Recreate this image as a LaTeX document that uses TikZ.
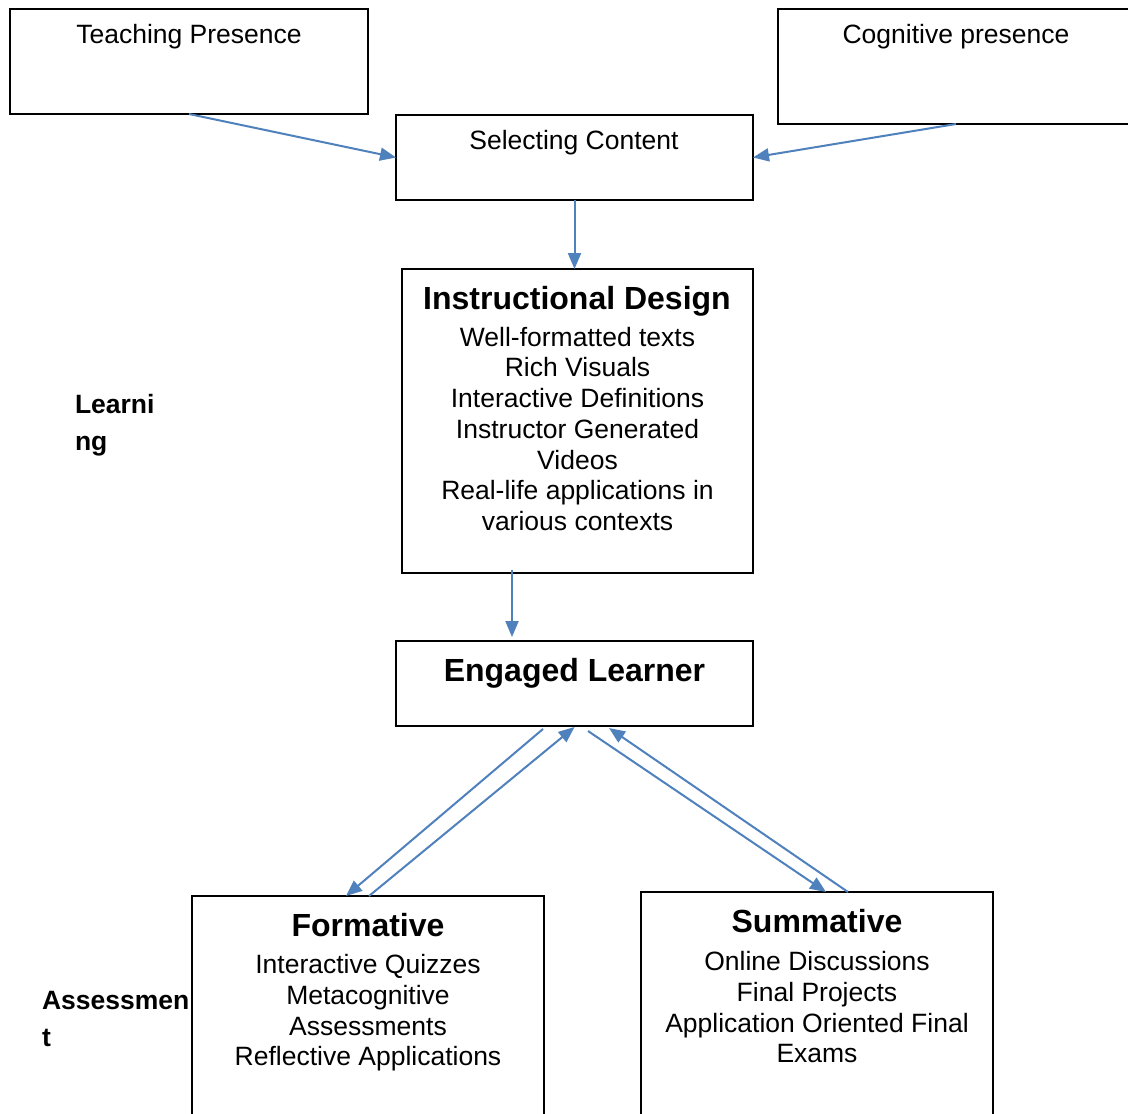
\documentclass[tikz,border=0pt]{standalone}
\usepackage{fontspec}
\setmainfont{Liberation Sans}
\usetikzlibrary{arrows.meta}
\definecolor{arrowblue}{HTML}{4F81BD}
\newcommand\bodyfont{\fontsize{26.5}{30.7}\selectfont}
\newcommand\titlefont{\fontsize{32}{36}\selectfont\bfseries}
\newcommand\labelfont{\fontsize{26.5}{36.5}\selectfont\bfseries}
\begin{document}
\begin{tikzpicture}[x=1pt,y=-1pt,
  box/.style={draw=black, line width=2pt, inner sep=0pt, outer sep=0pt, rectangle},
  txt/.style={inner sep=0pt, outer sep=0pt, font=\bodyfont, align=center},
  ttl/.style={inner sep=0pt, outer sep=0pt, font=\titlefont},
  lbl/.style={inner sep=0pt, outer sep=0pt, font=\labelfont, align=left},
  conn/.style={draw=arrowblue, line width=2pt},
  arr/.style={conn, -{Triangle[length=16pt,width=13pt]}}]
\useasboundingbox[fill=white] (0,0) rectangle (1128,1114);
% boxes
\node[box, minimum width=358pt, minimum height=105pt] (tp) at (189,61.5) {};
\node[box, minimum width=356pt, minimum height=115pt] (cp) at (956,66.5) {};
\node[box, minimum width=357pt, minimum height=85pt] (sc) at (574.5,157.5) {};
\node[box, minimum width=351pt, minimum height=304pt] (id) at (577.5,421) {};
\node[box, minimum width=357pt, minimum height=85pt] (el) at (574.5,683.5) {};
\node[box, minimum width=352pt, minimum height=234pt] (fo) at (368,1013) {};
\node[box, minimum width=352pt, minimum height=238pt] (su) at (817,1011) {};
% texts
\node[txt, anchor=base] (tpT) at (189,43.5) {Teaching Presence};
\node[txt, anchor=base] (cpT) at (956,43.5) {Cognitive presence};
\node[txt, anchor=base] (scT) at (574,149.5) {Selecting Content};
\node[ttl, anchor=base] (idT) at (577,309.5) {Instructional Design};
\node[txt, anchor=north] (idB) at (577.5,327) {Well-formatted texts\\Rich Visuals\\Interactive Definitions\\Instructor Generated\\Videos\\Real-life applications in\\various contexts};
\node[ttl, anchor=base] (elT) at (574.5,681.5) {Engaged Learner};
\node[ttl, anchor=base] (foT) at (368,936.5) {Formative};
\node[txt, anchor=north] (foB) at (368,954.5) {Interactive Quizzes\\Metacognitive\\Assessments\\Reflective Applications};
\node[ttl, anchor=base] (suT) at (817,932.5) {Summative};
\node[txt, anchor=north] (suB) at (817,951.5) {Online Discussions\\Final Projects\\Application Oriented Final\\Exams};
\node[lbl, anchor=north west] (lrn) at (75,394.5) {Learni\\ng};
\node[lbl, anchor=north west] (ass) at (42,991.5) {Assessmen\\t};
% connectors
\draw[arr] (tp.south) -- (sc.west);
\draw[arr] (cp.south) -- (sc.east);
\draw[arr] (sc.south) -- (sc.south |- id.north);
\draw[arr] ([xshift=-65.5pt,yshift=3pt]id.south) -- ([xshift=-62.5pt,yshift=4pt]el.north);
\draw[arr] ([xshift=-31.5pt,yshift=-3pt]el.south) -- ([xshift=-22pt]fo.north);
\draw[arr] ([xshift=1pt]fo.north) -- ([yshift=-1pt]el.south);
\draw[arr] ([xshift=13.5pt,yshift=-5pt]el.south) -- ([xshift=9pt]su.north);
\draw[arr] ([xshift=31pt]su.north) -- ([xshift=34.5pt,yshift=-2pt]el.south);
\end{tikzpicture}
\end{document}
